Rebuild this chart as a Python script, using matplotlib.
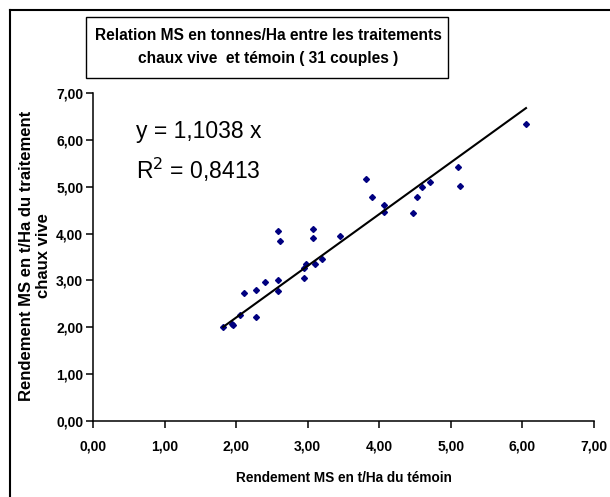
import numpy as np
import matplotlib
matplotlib.use('Agg')
import matplotlib.pyplot as plt
from matplotlib.patches import Rectangle
from matplotlib.lines import Line2D

plt.rcParams['font.family'] = ['Liberation Sans', 'DejaVu Sans']

# rendement MS (t/Ha) : temoin vs chaux vive, 31 couples
temoin = [1.82, 1.94, 1.95, 2.06, 2.11, 2.28, 2.28, 2.40, 2.58, 2.58, 2.58,
          2.61, 2.95, 2.97, 2.95, 3.08, 3.08, 3.10, 3.20, 3.45, 3.81, 3.90,
          4.06, 4.06, 4.47, 4.53, 4.59, 4.71, 5.10, 5.13, 6.05]
chaux_vive = [2.01, 2.08, 2.04, 2.27, 2.74, 2.22, 2.80, 2.96, 3.01, 2.78, 4.06,
              3.84, 3.27, 3.34, 3.06, 4.09, 3.90, 3.34, 3.46, 3.94, 5.17, 4.77,
              4.61, 4.45, 4.43, 4.78, 5.00, 5.09, 5.42, 5.02, 6.33]
slope = 1.1038
r2 = 0.8413
ticks = [0, 1, 2, 3, 4, 5, 6, 7]
tick_labels = ['0,00', '1,00', '2,00', '3,00', '4,00', '5,00', '6,00', '7,00']

fig = plt.figure(figsize=(6.10, 4.97), dpi=100)
ax = fig.add_axes([93/610, 1-421/497, 501/610, 328/497])

x = np.array(temoin)
y = np.array(chaux_vive)
ax.plot(x, y, linestyle='none', marker='D', markersize=3.0, color='#000080')
xl = np.array([x.min(), x.max()])
ax.plot(xl, slope*xl, color='black', linewidth=1.5)

ax.set_xlim(0, 7)
ax.set_ylim(0, 7)
ax.set_xticks(ticks)
ax.set_yticks(ticks)
ax.set_xticklabels(tick_labels, fontsize=10, fontweight='bold')
ax.set_yticklabels(tick_labels, fontsize=10, fontweight='bold')
ax.tick_params(direction='out', length=5, width=1.1, pad=8)
ax.tick_params(axis='y', pad=2)
for s in ['top', 'right']:
    ax.spines[s].set_visible(False)
for s in ['left', 'bottom']:
    ax.spines[s].set_linewidth(1.1)

ax.set_xlabel('Rendement MS en t/Ha du témoin', fontsize=9.8, fontweight='bold', labelpad=13)
fig.text(35/610, 1-256/497, 'Rendement MS en t/Ha du traitement\nchaux vive',
         rotation=90, ha='center', va='center', fontsize=12, fontweight='bold',
         linespacing=1.1)

# equation de la droite de tendance
fig.text(136/610, 1-131/497, 'y = ' + f'{slope:.4f}'.replace('.', ',') + ' x',
         fontsize=16.5, va='center', ha='left')
fig.text(136/610, 1-170/497, r'R$^2$ = ' + f'{r2:.4f}'.replace('.', ','),
         fontsize=16.5, va='center', ha='left')

# cadre du titre
fig.add_artist(Rectangle((86/610, 1-78/497), 362/610, 61/497, transform=fig.transFigure,
                         facecolor='white', edgecolor='black', linewidth=1.0))
fig.text(268/610, 1-47/497, 'Relation MS en tonnes/Ha entre les traitements\nchaux vive  et témoin ( 31 couples )',
         ha='center', va='center', fontsize=11.2, fontweight='bold', linespacing=1.75)

# bordure exterieure (haut et gauche)
fig.add_artist(Line2D([10/610, 10/610], [0, 1-10/497], transform=fig.transFigure, color='black', linewidth=1.5))
fig.add_artist(Line2D([10/610, 1], [1-10/497, 1-10/497], transform=fig.transFigure, color='black', linewidth=1.5))

fig.savefig('out.png', dpi=100)
